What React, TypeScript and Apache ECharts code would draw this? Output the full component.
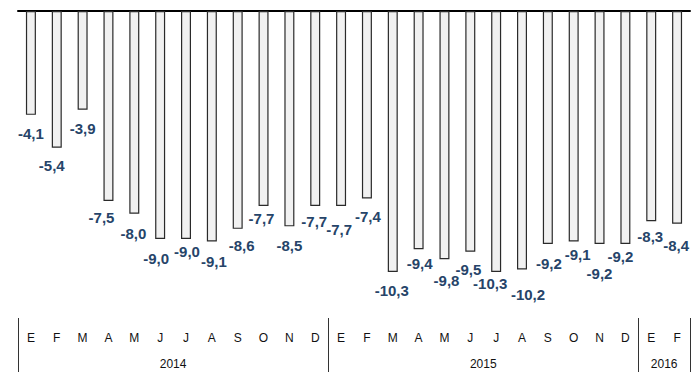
import React, { useEffect, useRef } from "react";
import * as echarts from "echarts";

const months = ["E","F","M","A","M","J","J","A","S","O","N","D","E","F","M","A","M","J","J","A","S","O","N","D","E","F"];
const values = [-4.1,-5.4,-3.9,-7.5,-8.0,-9.0,-9.0,-9.1,-8.6,-7.7,-8.5,-7.7,-7.7,-7.4,-10.3,-9.4,-9.8,-9.5,-10.3,-10.2,-9.2,-9.1,-9.2,-9.2,-8.3,-8.4];
const years = ["2014","2015","2016"];
const yearStarts = [0, 12, 24];
const yearEnds = [12, 24, 26];
// label nudges [dx, dy] (styling only)
const labelNudges: [number, number][] = [
  [0,5],[-5,4],[0,5],[-7,3],[-1,6],[-4,6],[1,-1],[2,6],[4,3],[-2,-1],[0,6],[-1,2],[-2,10],
  [1,5],[-1,5],[1,1],[2,8],[-2,4],[-6,-2],[6,12],[1,6],[4,-1],[0,16],[-5,-1],[-1,2],[-1,8]
];

const FONT = "Liberation Sans, Arial, sans-serif";

export default function App() {
  const ref = useRef<HTMLDivElement>(null);
  useEffect(() => {
    if (!ref.current) return;
    const chart = echarts.init(ref.current, null, { renderer: "svg" });
    const fmt = (v: number) => v.toFixed(1).replace(".", ",");
    chart.setOption({
      animation: false,
      grid: { left: 18, right: 2, top: 11, height: 304 },
      xAxis: [
        {
          type: "category",
          data: months,
          position: "bottom",
          axisLine: { show: false },
          axisTick: { show: false },
          axisLabel: { margin: 17, fontSize: 12, color: "#111", fontFamily: FONT, interval: 0 },
        },
        {
          type: "category",
          data: months,
          position: "top",
          axisLine: { show: true, lineStyle: { color: "#000", width: 2 } },
          axisTick: { show: false },
          axisLabel: { show: false },
        },
      ],
      yAxis: { type: "value", min: -12, max: 0, show: false, splitLine: { show: false } },
      series: [
        {
          type: "bar",
          barWidth: 10,
          data: values.map((v, i) => ({
            value: v,
            label: { offset: labelNudges[i] },
          })),
          itemStyle: { color: "#f1f1f1", borderColor: "#2a2a2a", borderWidth: 1.2 },
          label: {
            show: true,
            position: "bottom",
            distance: 6,
            fontSize: 15,
            fontWeight: "bold",
            color: "#264469",
            fontFamily: FONT,
            formatter: (p: any) => fmt(p.value),
          },
        },
      ],
    });
    const c0 = chart.convertToPixel({ xAxisIndex: 0 }, 0) as number;
    const c1 = chart.convertToPixel({ xAxisIndex: 0 }, 1) as number;
    const band = c1 - c0;
    const bx = (i: number) => c0 - band / 2 + band * i;
    const elements: any[] = [];
    const bounds = [0, 12, 24, 26];
    bounds.forEach((b) => {
      const x = Math.min(Math.round(bx(b)), 690) + 0.5;
      elements.push({ type: "line", shape: { x1: x, y1: 318, x2: x, y2: 372 }, style: { stroke: "#333", lineWidth: 1 } });
    });
    years.forEach((y, k) => {
      const x = (bx(yearStarts[k]) + bx(yearEnds[k])) / 2;
      elements.push({
        type: "text",
        x,
        y: 358,
        style: { text: y, fontSize: 12, fill: "#111", fontFamily: FONT, align: "center", verticalAlign: "top" },
      });
    });
    chart.setOption({ graphic: elements });
    return () => chart.dispose();
  }, []);
  return <div ref={ref} style={{ position: "absolute", left: 0, top: 0, width: 692, height: 372 }} />;
}
